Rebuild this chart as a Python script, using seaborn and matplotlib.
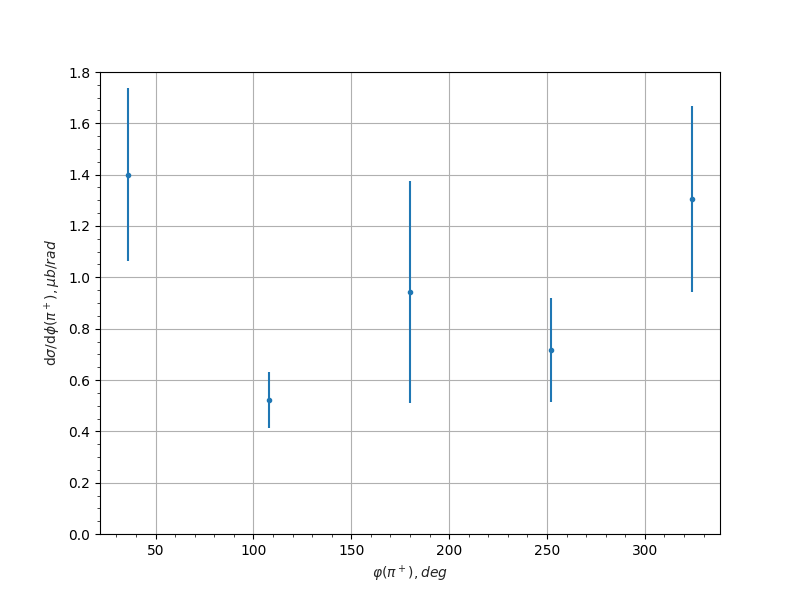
import numpy as np
import matplotlib
matplotlib.use("Agg")
import matplotlib.pyplot as plt
import seaborn as sns

# phi bins (deg), cross section and errors
phi = [36, 108, 180, 252, 324]
dsigma = [1.399, 0.522, 0.943, 0.717, 1.305]
err = [0.337, 0.109, 0.434, 0.204, 0.364]

sns.set_style("ticks")
plt.rcParams["font.family"] = ["DejaVu Sans"]

fig, ax = plt.subplots(figsize=(8, 6), dpi=100)
ax.errorbar(phi, dsigma, yerr=err, fmt=".", color="#1f77b4")
ax.set_ylim(0, 1.8)
ax.minorticks_on()
ax.grid(True, which="major", color="#b0b0b0", linewidth=0.8)
ax.set_axisbelow(True)
ax.set_xlabel(r"$\varphi(\pi^+), deg$")
ax.set_ylabel(r"d$\sigma$/d$\phi(\pi^+), \mu b/rad$")
for s in ax.spines.values():
    s.set_color("black")
    s.set_linewidth(0.8)
ax.tick_params(colors="black", direction="out")

fig.savefig("out.png", dpi=100)
